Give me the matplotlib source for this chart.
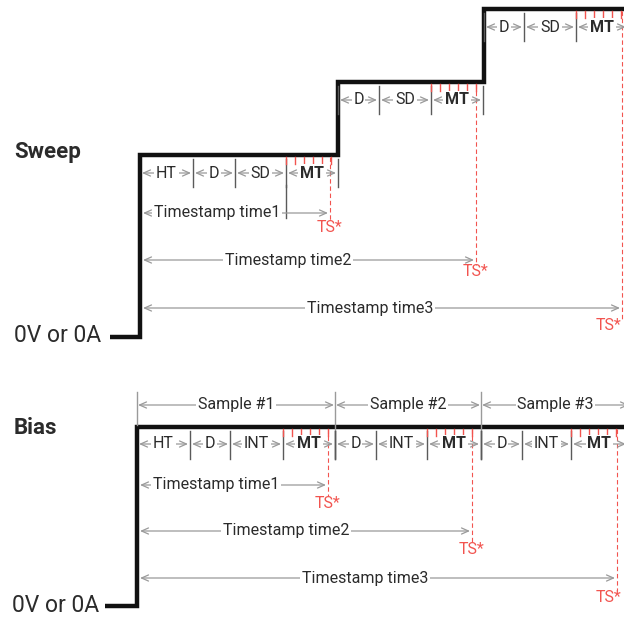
import matplotlib.pyplot as plt

plt.rcParams['font.family'] = ['Roboto', 'DejaVu Sans']

# ---- data (time axis in drawing units, level = output step) ----
sweep_levels = [155, 82, 9]
sweep_labels = [["HT", "D", "SD", "MT"], ["D", "SD", "MT"], ["D", "SD", "MT"]]
sweep_edges = [[140, 193, 235, 286, 338], [338, 379, 431, 483], [484, 524, 576, 628]]
sweep_ts = [330, 476, 622]
sweep_ts_names = ["Timestamp time1", "Timestamp time2", "Timestamp time3"]

bias_level = 427
bias_labels = [["HT", "D", "INT", "MT"], ["D", "INT", "MT"], ["D", "INT", "MT"]]
bias_edges = [[137, 190, 230, 283, 335], [335, 376, 427, 481], [481, 522, 571, 628]]
bias_ts = [328, 472, 617]
bias_ts_names = ["Timestamp time1", "Timestamp time2", "Timestamp time3"]
sample_names = ["Sample #1", "Sample #2", "Sample #3"]
sample_edges = [137, 335, 481, 630]

# layout
sweep_ts_rows = [213, 260, 308]
sweep_ts_lbl_x = [217, 288, 370]
bias_ts_rows = [485, 531, 578]
bias_ts_lbl_x = [216, 286, 365]

GRAY = '#9a9a9a'
DIV = '#5a5a5a'
RED = '#f2544f'
TXT = '#2b2b2b'

fig = plt.figure(figsize=(6.24, 6.18), dpi=100)
ax = fig.add_axes([0, 0, 1, 1])
ax.set_xlim(0, 624)
ax.set_ylim(618, 0)
ax.axis('off')


def dim_arrow(x0, x1, y, label, lx=None, bold=False, size=11.5):
    ax.annotate('', xy=(x1, y), xytext=(x0, y), annotation_clip=False,
                arrowprops=dict(arrowstyle='<->,head_length=0.5,head_width=0.22',
                                color=GRAY, lw=0.9, shrinkA=0, shrinkB=0))
    if lx is None:
        lx = (x0 + x1) / 2
    ax.text(lx, y, label, ha='center', va='center', fontsize=size, color=TXT,
            fontweight='bold' if bold else 'normal',
            bbox=dict(fc='white', ec='none', pad=1.2))


def segments(edges, labels, level, row):
    for i, lab in enumerate(labels):
        x0, x1 = edges[i], edges[i + 1]
        dim_arrow(x0 + 2, x1 - 2, row, lab, bold=(lab == "MT"))
    for j, x in enumerate(edges):
        if j == 0 and x in (sweep_edges[0][0], bias_edges[0][0]):
            continue
        ax.plot([x, x], [level + 4, level + 32], color=DIV, lw=1.0)
    # red measure ticks over MT
    m0 = edges[-2]
    for k in range(6):
        t = m0 + k * 9
        ax.plot([t, t], [level + 2, level + 9], color=RED, lw=1.0)


def ts_marker(x, level, y_lbl, lbl_x=None):
    ax.plot([x, x], [level + 2, y_lbl - 7], color=RED, lw=0.8,
            dashes=(4, 2.5))
    ax.text(x if lbl_x is None else lbl_x, y_lbl, "TS*", ha='center',
            va='center', fontsize=11.5, color=RED)


# ---- Sweep ----
sx = [110, 140, 140]
sy = [337, 337, sweep_levels[0]]
for i, lev in enumerate(sweep_levels):
    right = sweep_edges[i + 1][0] if i + 1 < len(sweep_levels) else 630
    sx += [right]
    sy += [lev]
    if i + 1 < len(sweep_levels):
        sx += [right]
        sy += [sweep_levels[i + 1]]
ax.plot(sx, sy, color='#111111', lw=3.2, solid_joinstyle='miter',
        solid_capstyle='butt')

for i, lev in enumerate(sweep_levels):
    segments(sweep_edges[i], sweep_labels[i], lev, lev + 18)

# MT start divider of first step reaches the timestamp row
ax.plot([sweep_edges[0][3]] * 2, [sweep_levels[0] + 30, sweep_ts_rows[0] + 5],
        color=DIV, lw=1.0)

ts_lbl_y = [228, 272, 326]
for i, t in enumerate(sweep_ts):
    dim_arrow(143, t - 2, sweep_ts_rows[i], sweep_ts_names[i],
              lx=sweep_ts_lbl_x[i], size=11.5)
    ts_marker(t, sweep_levels[i], ts_lbl_y[i], lbl_x=min(t, 609))

ax.text(14, 152, "Sweep", fontsize=16, fontweight='bold', color=TXT,
        ha='left', va='center')
ax.text(14, 336, "0V or 0A", fontsize=16.5, color=TXT, ha='left', va='center')

# ---- Bias ----
ax.plot([105, 137, 137, 630], [606, 606, bias_level, bias_level],
        color='#111111', lw=3.2, solid_joinstyle='miter', solid_capstyle='butt')

for i, name in enumerate(sample_names):
    x0, x1 = sample_edges[i], sample_edges[i + 1]
    dim_arrow(x0 + 1, x1 - 1, 405, name, lx=(x0 + min(x1, 636)) / 2, size=11.5)
for j, x in enumerate(sample_edges[:-1]):
    ax.plot([x, x], [392, bias_level - 2 if j == 0 else bias_level + 31],
            color=GRAY, lw=1.0)

for i in range(3):
    segments(bias_edges[i], bias_labels[i], bias_level, bias_level + 17)

bts_lbl_y = [503, 550, 598]
for i, t in enumerate(bias_ts):
    dim_arrow(140, t - 2, bias_ts_rows[i], bias_ts_names[i],
              lx=bias_ts_lbl_x[i], size=11.5)
    ts_marker(t, bias_level, bts_lbl_y[i], lbl_x=min(t, 609))

ax.text(14, 428, "Bias", fontsize=16, fontweight='bold', color=TXT,
        ha='left', va='center')
ax.text(12, 606, "0V or 0A", fontsize=16.5, color=TXT, ha='left', va='center')

fig.savefig('out.png', dpi=100)
